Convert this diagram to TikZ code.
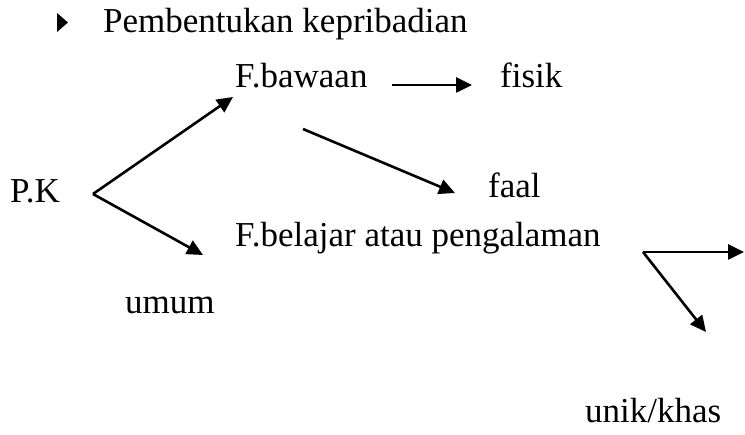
\documentclass[tikz,border=0pt]{standalone}
\usepackage{fontspec}
\setmainfont{Liberation Serif}
\usetikzlibrary{arrows.meta}

\begin{document}
\begin{tikzpicture}[x=1pt,y=-1pt,
    lbl/.style={anchor=base west,inner sep=0pt,font=\fontsize{35}{42}\selectfont},
    arr/.style={-{Triangle[length=16pt,width=15pt]},line width=2.6pt}]
    \useasboundingbox (0,0) rectangle (745,435);
    % judul
    \fill (57,13) -- (68,22.5) -- (57,32) -- cycle;
    \node[lbl] (judul) at (103,33) {Pembentukan kepribadian};
    % teks
    \node[lbl] (pk) at (10,203) {P.K};
    \node[lbl] (bawaan) at (235,88) {F.bawaan};
    \node[lbl] (fisik) at (500,88) {fisik};
    \node[lbl] (faal) at (488,198) {faal};
    \node[lbl] (belajar) at (235,247) {F.belajar atau pengalaman};
    \node[lbl] (umum) at (125,314) {umum};
    \node[lbl] (unik) at (585,423) {unik/khas};
    % titik ujung panah
    \coordinate (pkv) at (93,194);
    \coordinate (bawaanin) at (233,97);
    \coordinate (belajarin) at (203,255);
    \coordinate (bawaanout) at (392,85);
    \coordinate (fisikin) at (472,85);
    \coordinate (faalout) at (303,129);
    \coordinate (faalin) at (455,193);
    \coordinate (belajarv) at (643,252);
    \coordinate (umumin) at (744,252);
    \coordinate (unikin) at (706,332);
    % panah
    \draw[arr] (pkv) -- (bawaanin);
    \draw[arr] (pkv) -- (belajarin);
    \draw[arr] (bawaanout) -- (fisikin);
    \draw[arr] (faalout) -- (faalin);
    \draw[arr] (belajarv) -- (umumin);
    \draw[arr] (belajarv) -- (unikin);
\end{tikzpicture}
\end{document}
